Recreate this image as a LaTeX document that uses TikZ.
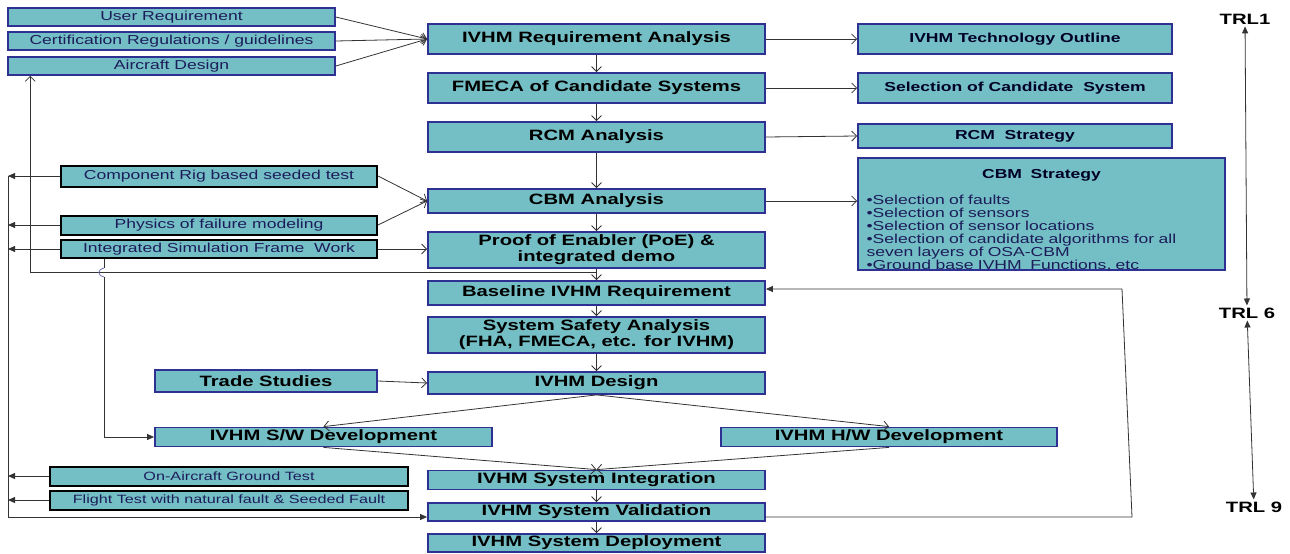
\documentclass[tikz,border=0pt]{standalone}
\usepackage{fontspec}
\setmainfont[FakeStretch=1.35]{Liberation Sans}
\usepackage[HTML]{xcolor}
\usetikzlibrary{arrows.meta}
\definecolor{boxfill}{HTML}{74BFC5}
\definecolor{boxedge}{HTML}{2E3192}
\definecolor{navytext}{HTML}{1C1C5A}
\definecolor{wire}{HTML}{333333}

\begin{document}
\begin{tikzpicture}[x=1pt, y=-1pt,
  stage/.style={draw=boxedge, line width=1.8pt, fill=boxfill, inner sep=0pt, minimum width=337pt, align=center, font=\bfseries\fontsize{15}{16}\selectfont},
  source/.style={draw=boxedge, line width=1.6pt, fill=boxfill, inner sep=0pt, minimum width=327pt, minimum height=18pt, text=navytext, font=\fontsize{13}{14}\selectfont},
  testbox/.style={draw=black, line width=2pt, fill=boxfill, inner sep=0pt, text=navytext, font=\fontsize{13}{14}\selectfont},
  outcome/.style={draw=boxedge, line width=1.6pt, fill=boxfill, inner sep=0pt, minimum width=314pt, text=black!85!blue, font=\bfseries\fontsize{13}{14}\selectfont},
  trl/.style={inner sep=2pt, font=\bfseries\fontsize{15}{16}\selectfont},
  flow/.style={draw=wire, line width=0.8pt, -{Straight Barb[length=5pt, width=10pt]}},
  feed/.style={draw=wire, line width=0.8pt, -{Triangle[length=7pt, width=6pt]}},
]
\useasboundingbox (0,0) rectangle (1290,554);

% --- Inputs to requirement analysis ---
\node[source] (ureq) at (171.5,17) {User Requirement};
\node[source] (cert) at (171.5,41) {Certification Regulations / guidelines};
\node[source] (acd) at (171.5,66) {Aircraft Design};

% --- Main column ---
\node[stage, minimum height=30pt] (reqan) at (596.5,39) {IVHM Requirement Analysis};
\node[stage, minimum height=30pt] (fmeca) at (596.5,88) {FMECA of Candidate Systems};
\node[stage, minimum height=30pt] (rcm) at (596.5,137) {RCM Analysis};
\node[stage, minimum height=24pt] (cbm) at (596.5,201) {CBM Analysis};
\node[stage, minimum height=36pt] (poe) at (596.5,250) {Proof of Enabler (PoE) \&\\ integrated demo};
\node[stage, minimum height=24pt] (base) at (596.5,293) {Baseline IVHM Requirement};
\node[stage, minimum height=36pt] (safety) at (596.5,335) {System Safety Analysis\\ (FHA, FMECA, etc. for IVHM)};
\node[stage, minimum height=22pt] (design) at (596.5,383) {IVHM Design};
\node[stage, minimum height=19pt] (integ) at (596.5,480) {IVHM System Integration};
\node[stage, minimum height=18pt] (valid) at (596.5,512) {IVHM System Validation};
\node[stage, minimum height=18pt] (deploy) at (596.5,543) {IVHM System Deployment};

% --- Outcomes on the right ---
\node[outcome, minimum height=30pt] (techout) at (1015,39) {IVHM Technology Outline};
\node[outcome, minimum height=30pt] (selcand) at (1015,88) {Selection of Candidate~~System};
\node[outcome, minimum height=24pt] (rcmstrat) at (1015,136) {RCM~~Strategy};
\node[draw=boxedge, line width=1.6pt, fill=boxfill, minimum width=367pt, minimum height=112pt,
      text width=350pt, align=left, inner xsep=8pt, text=navytext, font=\fontsize{13}{13}\selectfont]
      (cbmstrat) at (1041.5,214)
      {\centerline{\textcolor{black!85!blue}{\bfseries CBM~~Strategy}}\vspace{13pt}
       •Selection of faults\\
       •Selection of sensors\\
       •Selection of sensor locations\\
       •Selection of candidate algorithms for all\\
       seven layers of OSA-CBM\\
       •Ground base IVHM~~Functions, etc\par\vspace{-12pt}};

% --- Test and simulation boxes ---
\node[testbox, minimum width=316pt, minimum height=21pt] (comprig) at (219,176) {Component Rig based seeded test};
\node[testbox, minimum width=316pt, minimum height=19pt] (physics) at (219,225) {Physics of failure modeling};
\node[testbox, minimum width=316pt, minimum height=18pt] (intsim) at (219,249) {Integrated Simulation Frame~~Work};
\node[testbox, minimum width=358pt, minimum height=19pt, font=\fontsize{12}{13}\selectfont] (ground) at (229,476) {On-Aircraft Ground Test};
\node[testbox, minimum width=358pt, minimum height=19pt, font=\fontsize{12}{13}\selectfont] (flight) at (229,500) {Flight Test with natural fault \& Seeded Fault};

% --- Design branches ---
\node[stage, minimum width=222pt, minimum height=22pt] (trade) at (266,381) {Trade Studies};
\node[stage, minimum height=19pt] (swdev) at (323.5,437) {IVHM S/W Development};
\node[stage, minimum width=336pt, minimum height=19pt] (hwdev) at (889,437) {IVHM H/W Development};

% --- TRL scale ---
\node[trl] (trl1) at (1245,19) {TRL1};
\node[trl] (trl6) at (1247,313) {TRL 6};
\node[trl] (trl9) at (1254,507) {TRL 9};

% --- Connectors ---
\draw[flow] (ureq.east) -- (reqan.west);
\draw[flow] (cert.east) -- (reqan.west);
\draw[flow] (acd.east) -- (reqan.west);
\foreach \a/\b in {reqan/fmeca, fmeca/rcm, rcm/cbm, cbm/poe, poe/base, base/safety, safety/design, integ/valid, valid/deploy}
  \draw[flow] (\a) -- (\b);
\draw[flow] (reqan.east) -- (techout.west);
\draw[flow] (fmeca.east) -- (selcand.west);
\draw[flow] (rcm.east) -- (rcmstrat.west);
\draw[flow] (cbm.east) -- (cbm.east -| cbmstrat.west);
\draw[flow] (comprig.east) -- (cbm.west);
\draw[flow] (physics.east) -- (cbm.west);
\draw[flow] (intsim.east) -- (intsim.east -| poe.west);
\draw[flow] (trade.east) -- (design.west);
\draw[flow] (design.south) -- (swdev.north);
\draw[flow] (design.south) -- (hwdev.north);
\draw[flow] (swdev.south) -- (integ.north);
\draw[flow] (hwdev.south) -- (integ.north);

% back to aircraft design
\coordinate (back) at (596.5,272);
\draw[flow] (back) -| ([xshift=23pt]acd.south west);

% test results to validation
\coordinate (lt) at (8,176);
\foreach \n in {comprig, physics, intsim, ground, flight}
  \draw[feed] (\n.west) -- (\n.west -| lt);
\draw[feed] (lt) |- ([yshift=-5pt]valid.west);

% simulation to software, with a hop
\coordinate (hoptop) at (104,268);
\coordinate (hopbot) at (104,277);
\draw[wire, line width=0.8pt] ([xshift=-115pt]intsim.south) -- (hoptop);
\draw[boxedge!70, line width=0.8pt] (hoptop) .. controls (97,270) and (97,275) .. (hopbot);
\draw[feed] (hopbot) |- (swdev.west);

% validation back to baseline
\coordinate (rb) at (1132,517);
\coordinate (rt) at (1122,289);
\draw[feed] ([yshift=-5pt]valid.east) -- (rb) -- (rt) -- ([yshift=4pt]base.east);

% TRL arrows
\draw[wire, line width=0.8pt, {Triangle[length=7pt, width=6pt]}-{Triangle[length=7pt, width=6pt]}] (trl1) -- (trl6);
\draw[wire, line width=0.8pt, {Triangle[length=7pt, width=6pt]}-{Triangle[length=7pt, width=6pt]}] (trl6) -- (trl9);

\end{tikzpicture}
\end{document}
